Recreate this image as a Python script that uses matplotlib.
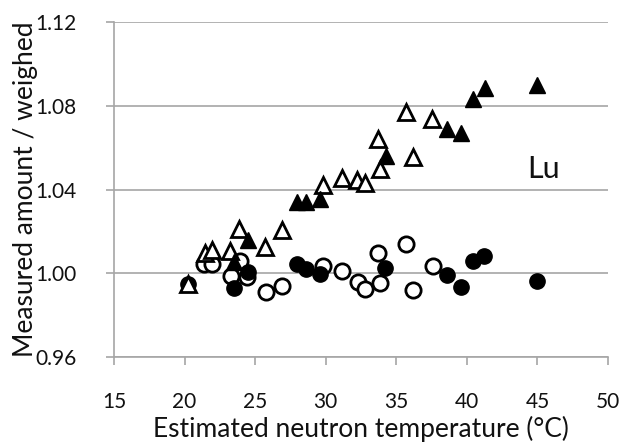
import matplotlib
matplotlib.use("Agg")
import matplotlib.pyplot as plt

# Open circles
oc_x = [21.40, 21.92, 23.92, 23.29, 24.40, 25.74, 26.90, 29.82, 31.13, 32.26, 32.78, 33.68, 33.84, 35.68, 36.20, 37.57]
oc_y = [1.0043, 1.0043, 1.0060, 0.9987, 0.9981, 0.9909, 0.9941, 1.0036, 1.0011, 0.9960, 0.9925, 1.0095, 0.9952, 1.0140, 0.9920, 1.0035]

# Filled circles
fc_x = [20.22, 23.52, 24.51, 27.98, 28.60, 29.59, 34.21, 38.56, 39.55, 40.40, 41.20, 44.98]
fc_y = [0.9947, 0.9928, 1.0005, 1.0043, 1.0019, 0.9997, 1.0027, 0.9992, 0.9936, 1.0059, 1.0083, 0.9963]

# Open triangles
ot_x = [20.22, 21.44, 21.92, 23.22, 23.87, 25.69, 26.88, 29.82, 31.13, 32.23, 32.78, 33.84, 33.72, 35.68, 36.15, 37.54]
ot_y = [0.9947, 1.0095, 1.0111, 1.0108, 1.0211, 1.0127, 1.0207, 1.0422, 1.0454, 1.0446, 1.0430, 1.0497, 1.0641, 1.0772, 1.0557, 1.0735]

# Filled triangles
ft_x = [23.52, 24.47, 27.98, 28.58, 29.59, 34.24, 38.56, 39.55, 40.45, 41.27, 44.98]
ft_y = [1.0055, 1.0159, 1.0342, 1.0342, 1.0353, 1.0560, 1.0689, 1.0668, 1.0831, 1.0883, 1.0899]

x_ticks = [15, 20, 25, 30, 35, 40, 45, 50]
y_ticks = [0.96, 1.00, 1.04, 1.08, 1.12]
y_ticklabels = ["0.96", "1.00", "1.04", "1.08", "1.12"]

plt.rcParams['font.family'] = ['Lato', 'DejaVu Sans']

fig = plt.figure(figsize=(6.3, 4.44), dpi=100)
ax = fig.add_axes([114/630, 1-357/444, (608-114)/630, (357-22)/444])

grey = '#a6a6a6'
txt = '#111111'
ms = 11
ax.plot(oc_x, oc_y, 'o', ms=ms, mfc='white', mec='black', mew=2.0, ls='none', zorder=3)
ax.plot(fc_x, fc_y, 'o', ms=ms, mfc='black', mec='black', mew=1.0, ls='none', zorder=4)
ax.plot(ot_x, ot_y, '^', ms=ms, mfc='white', mec='black', mew=2.0, ls='none', zorder=5)
ax.plot(ft_x, ft_y, '^', ms=ms, mfc='black', mec='black', mew=1.0, ls='none', zorder=6)

ax.set_xlim(15, 50)
ax.set_ylim(0.96, 1.12)
ax.set_xticks(x_ticks)
ax.set_yticks(y_ticks)
ax.set_yticklabels(y_ticklabels)

ax.grid(axis='y', color=grey, lw=1.2, zorder=0)
ax.set_axisbelow(True)
for s in ['top', 'right']:
    ax.spines[s].set_visible(False)
for s in ['left', 'bottom']:
    ax.spines[s].set_color(grey)
    ax.spines[s].set_linewidth(1.2)
ax.tick_params(axis='both', direction='out', length=6, width=1.2, color=grey,
               labelsize=15, labelcolor=txt)
ax.tick_params(axis='y', pad=21)
ax.tick_params(axis='x', pad=19)

ax.set_xlabel('Estimated neutron temperature (°C)', fontsize=19, color=txt, labelpad=3)
ax.set_ylabel('Measured amount / weighed', fontsize=19, color=txt, labelpad=-2)

ax.text(45.43, 1.0497, 'Lu', fontsize=22, color=txt, ha='center', va='center')

fig.savefig('out.png', dpi=100)
